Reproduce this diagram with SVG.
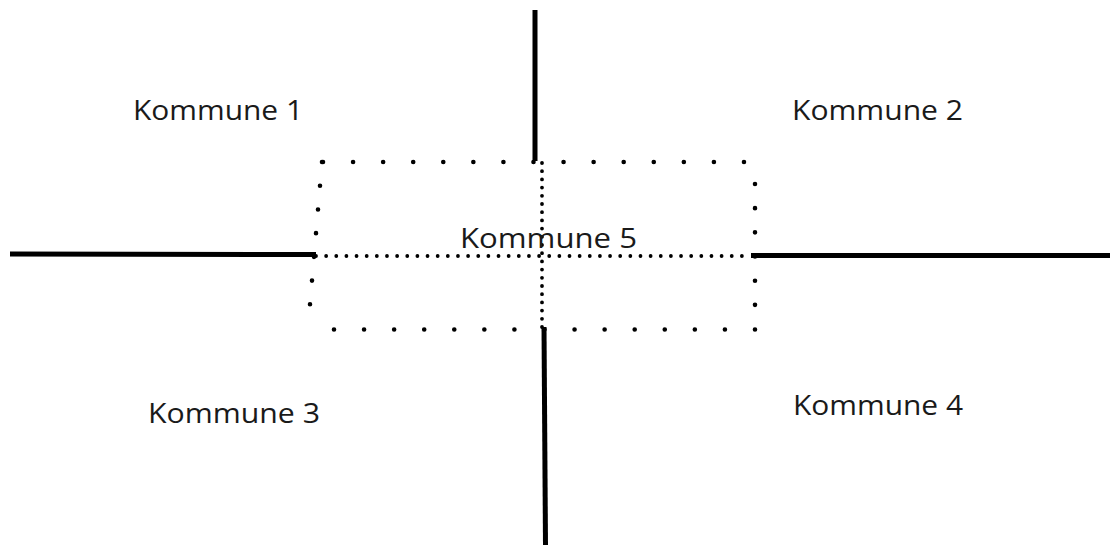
<svg xmlns="http://www.w3.org/2000/svg" width="1110" height="545" viewBox="0 0 1110 545">
  <style>
    .border { stroke: #000; stroke-width: 5; stroke-linecap: butt; fill: none; }
    .dots { stroke: #000; stroke-width: 4.6; stroke-linecap: round; fill: none; }
    .fine { stroke: #000; stroke-width: 3.8; stroke-linecap: round; fill: none; }
    .label { font-family: "Open Sans", "Liberation Sans", sans-serif; font-size: 27px; fill: #1a1a1a; }
  </style>
  <rect width="1110" height="545" fill="#fff"/>

  <!-- solid municipal borders -->
  <g id="borders">
    <line class="border" x1="535" y1="10" x2="535" y2="161"/>
    <line class="border" x1="544" y1="327" x2="545.5" y2="545"/>
    <line class="border" x1="10" y1="254" x2="316" y2="254.5"/>
    <line class="border" x1="751" y1="255.5" x2="1110" y2="255.5"/>
  </g>

  <!-- dotted area of the shared municipality -->
  <g id="shared-area">
    <line class="dots" x1="323" y1="162" x2="744" y2="162" stroke-dasharray="0 30.07"/>
    <line class="dots" x1="334" y1="329.5" x2="755" y2="329.5" stroke-dasharray="0 30.07"/>
    <line class="dots" x1="322" y1="162" x2="308" y2="328" stroke-dasharray="0 23.8"/>
    <line class="dots" x1="755" y1="184" x2="755" y2="329" stroke-dasharray="0 24.17"/>
    <line class="fine" x1="316" y1="256" x2="752" y2="256" stroke-dasharray="0 10.14"/>
    <line class="fine" x1="542" y1="163" x2="542" y2="327" stroke-dasharray="0 8.2"/>
  </g>

  <g id="kommune-1"><text class="label" x="133" y="120" textLength="170" lengthAdjust="spacingAndGlyphs">Kommune 1</text></g>
  <g id="kommune-2"><text class="label" x="792" y="120" textLength="171" lengthAdjust="spacingAndGlyphs">Kommune 2</text></g>
  <g id="kommune-3"><text class="label" x="148" y="423" textLength="172" lengthAdjust="spacingAndGlyphs">Kommune 3</text></g>
  <g id="kommune-4"><text class="label" x="793" y="415" textLength="170" lengthAdjust="spacingAndGlyphs">Kommune 4</text></g>
  <g id="kommune-5"><text class="label" x="460" y="248" textLength="177" lengthAdjust="spacingAndGlyphs">Kommune 5</text></g>
</svg>
